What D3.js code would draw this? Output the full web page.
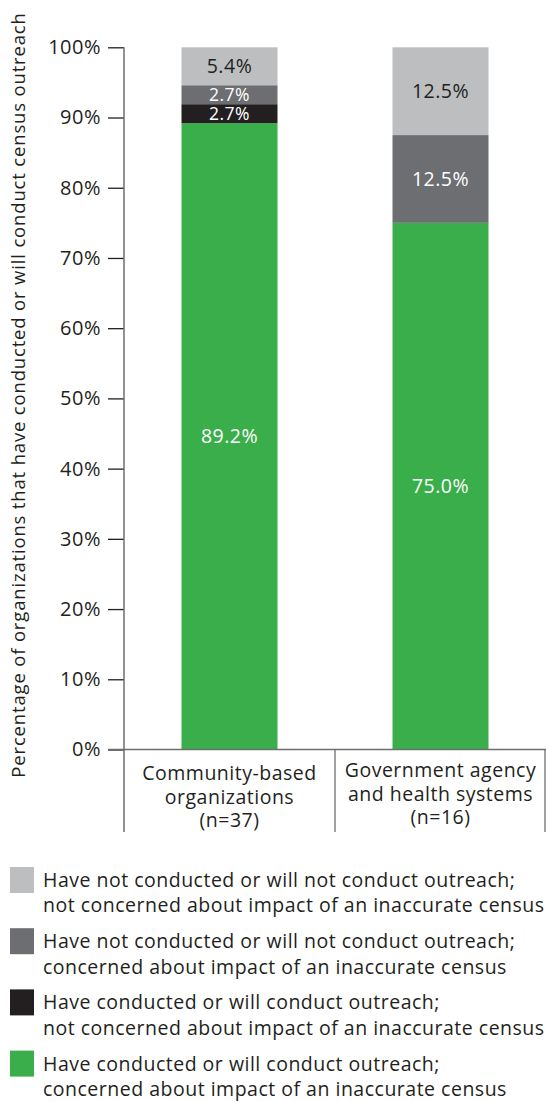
<!DOCTYPE html>
<html>
<head>
<meta charset="utf-8">
<script src="https://cdn.jsdelivr.net/npm/d3@7"></script>
<style>
  html, body { margin: 0; padding: 0; background: #fff; }
  svg { display: block; font-family: "Open Sans", "Noto Sans", sans-serif; }
</style>
</head>
<body>
<svg id="chart" width="546" height="1101"></svg>
<script>
// ---- data ----
const categories = ["Community-based organizations (n=37)", "Government agency and health systems (n=16)"];
const categoryLines = [["Community-based", "organizations", "(n=37)"], ["Government agency", "and health systems", "(n=16)"]];
const seriesNames = [
  "Have conducted or will conduct outreach; concerned about impact of an inaccurate census",
  "Have conducted or will conduct outreach; not concerned about impact of an inaccurate census",
  "Have not conducted or will not conduct outreach; concerned about impact of an inaccurate census",
  "Have not conducted or will not conduct outreach; not concerned about impact of an inaccurate census"
];
const legendLines = [
  ["Have conducted or will conduct outreach;", "concerned about impact of an inaccurate census"],
  ["Have conducted or will conduct outreach;", "not concerned about impact of an inaccurate census"],
  ["Have not conducted or will not conduct outreach;", "concerned about impact of an inaccurate census"],
  ["Have not conducted or will not conduct outreach;", "not concerned about impact of an inaccurate census"]
];
const concernedOutreach    = [89.2, 75.0];
const notConcernedOutreach = [2.7, 0];
const concernedNoOutreach  = [2.7, 12.5];
const notConcernedNoOutreach = [5.4, 12.5];
const yTicks = [0, 10, 20, 30, 40, 50, 60, 70, 80, 90, 100];
const yTitle = "Percentage of organizations that have conducted or will conduct census outreach";

// ---- styles ----
const colors = ["#3AAE4A", "#231F20", "#6D6E71", "#BCBEC0"];
const labelColors = ["#ffffff", "#ffffff", "#ffffff", "#231F20"];
const textColor = "#231F20";
const axisColor = "#6D6E71";
const FS = 19.5;
const LS = "0.5px";

const svg = d3.select("#chart");
const rows = categories.map((c, i) => ({
  cat: c,
  s0: concernedOutreach[i], s1: notConcernedOutreach[i],
  s2: concernedNoOutreach[i], s3: notConcernedNoOutreach[i]
}));
const stack = d3.stack().keys(["s0", "s1", "s2", "s3"]);
const series = stack(rows);

const y = d3.scaleLinear().domain([0, 100]).range([749.5, 47.3]);
const x = d3.scaleBand().domain(categories).range([124, 546]).padding(0);
const barW = 96;

// bars
const g = svg.append("g");
series.forEach((s, si) => {
  g.selectAll(null).data(s).enter().append("rect")
    .attr("x", d => x(d.data.cat) + x.bandwidth() / 2 - barW / 2)
    .attr("width", barW)
    .attr("y", d => y(d[1]))
    .attr("height", d => y(d[0]) - y(d[1]))
    .attr("fill", colors[si]);
});
series.forEach((s, si) => {
  g.selectAll(null).data(s.filter(d => d[1] - d[0] > 0)).enter().append("text")
    .attr("x", d => x(d.data.cat) + x.bandwidth() / 2)
    .attr("y", d => (y(d[0]) + y(d[1])) / 2)
    .attr("dy", "0.36em")
    .attr("text-anchor", "middle")
    .attr("font-size", d => (y(d[0]) - y(d[1]) < 24 ? 17.5 : FS))
    .attr("letter-spacing", LS)
    .attr("fill", labelColors[si])
    .text(d => (d[1] - d[0]).toFixed(1) + "%");
});

// y axis
const yAxis = d3.axisLeft(y).tickValues(yTicks).tickSize(16).tickPadding(7)
  .tickFormat(d => d + "%");
const ya = svg.append("g").attr("transform", "translate(124,0)").call(yAxis);
ya.select(".domain").remove();
ya.selectAll(".tick line").attr("stroke", textColor).attr("stroke-width", 1.3);
ya.selectAll(".tick text").attr("font-size", 20).attr("fill", textColor)
  .attr("letter-spacing", LS)
  .attr("font-family", "'Open Sans', sans-serif");
svg.append("line").attr("x1", 124).attr("x2", 124).attr("y1", y(100)).attr("y2", 832)
  .attr("stroke", axisColor).attr("stroke-width", 1.5);

// x axis baseline and dividers
svg.append("line").attr("x1", 108).attr("x2", 546).attr("y1", y(0)).attr("y2", y(0))
  .attr("stroke", axisColor).attr("stroke-width", 1.5);
[x(categories[1]), 545].forEach(px => {
  svg.append("line").attr("x1", px).attr("x2", px).attr("y1", y(0)).attr("y2", 832)
    .attr("stroke", axisColor).attr("stroke-width", 1.3);
});

// category labels
categories.forEach((c, i) => {
  const t = svg.append("text")
    .attr("x", x(c) + x.bandwidth() / 2)
    .attr("y", i === 0 ? 780 : 777)
    .attr("text-anchor", "middle")
    .attr("font-size", FS)
    .attr("letter-spacing", LS)
    .attr("fill", textColor);
  categoryLines[i].forEach((ln, j) => {
    t.append("tspan").attr("x", x(c) + x.bandwidth() / 2).attr("dy", j === 0 ? 0 : 23.5).text(ln);
  });
});

// y title
svg.append("text")
  .attr("transform", "translate(25," + 395 + ") rotate(-90)")
  .attr("text-anchor", "middle")
  .attr("font-size", 18.5)
  .attr("letter-spacing", "0.83px")
  .attr("fill", textColor)
  .text(yTitle);

// legend (top to bottom: reverse stack order)
const legendOrder = [3, 2, 1, 0];
legendOrder.forEach((si, k) => {
  const top = 867 + k * 61.2;
  svg.append("rect").attr("x", 10).attr("y", top).attr("width", 24).attr("height", 26)
    .attr("fill", colors[si]);
  const t = svg.append("text").attr("x", 43).attr("y", top + 20)
    .attr("font-size", FS).attr("letter-spacing", LS).attr("fill", textColor);
  legendLines[si].forEach((ln, j) => {
    t.append("tspan").attr("x", 43).attr("dy", j === 0 ? 0 : 25.3).text(ln);
  });
});
</script>
</body>
</html>
